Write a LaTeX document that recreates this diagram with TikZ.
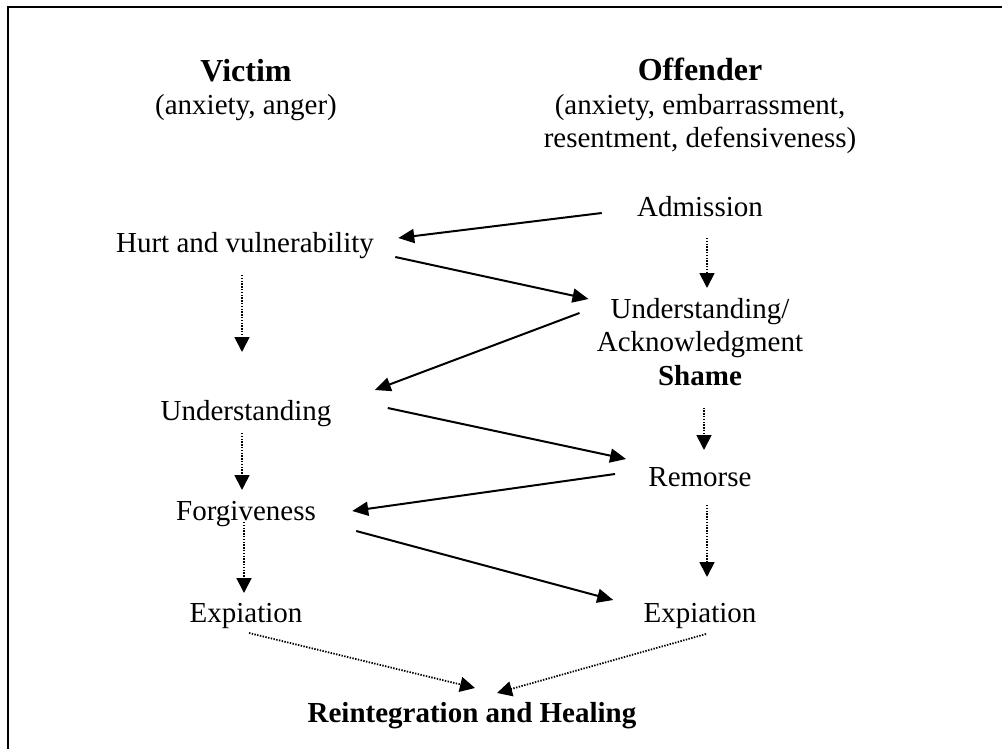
\documentclass[tikz,border=0pt]{standalone}
\usepackage{fontspec}
\setmainfont{Liberation Serif}
\usetikzlibrary{arrows.meta}
\newcommand{\headfont}{\fontsize{16}{18}\selectfont\bfseries}
\begin{document}
\begin{tikzpicture}[x=0.5pt,y=-0.5pt]
		\tikzstyle{every node}+=[inner sep=0pt, anchor=base, font=\fontsize{14.5}{16.75}\selectfont]
		\tikzstyle{arr}=[black, line width=1pt, -{Triangle[length=8pt,width=7pt]}]
		\tikzstyle{dotarr}=[black, line width=0.9pt, dash pattern=on 0.7pt off 0.7pt, -{Triangle[length=7.5pt,width=7.5pt]}]
		\useasboundingbox (0,0) rectangle (1002,749);
		\clip (0,0) rectangle (1002,749);
		% frame, cut off at the right and bottom
		\draw [black, line width=1pt] (8,7) rectangle (1030,780);
		% headers (base = last line)
		\node [align=center] (victim) at (246,115) {{\headfont Victim}\\(anxiety, anger)};
		\node [align=center] (offender) at (700,148) {{\headfont Offender}\\(anxiety, embarrassment,\\resentment, defensiveness)};
		% victim column
		\node (hurt) at (245,252) {Hurt and vulnerability};
		\node (underv) at (246,420) {Understanding};
		\node (forgive) at (246,520) {Forgiveness};
		\node (expv) at (246,622) {Expiation};
		% offender column
		\node (admission) at (700,217) {Admission};
		\node [align=center] (ack) at (700,385) {Understanding/\\Acknowledgment\\\textbf{Shame}};
		\node (remorse) at (700,486) {Remorse};
		\node (expo) at (700,622) {Expiation};
		\node (heal) at (472,722) {\textbf{Reintegration and Healing}};
		% zigzag
		\draw [arr] ([shift={(-35,-4)}]admission.base west) -- ([shift={(24,-14)}]hurt.base east);
		\draw [arr] ([shift={(21,5)}]hurt.base east) -- ([shift={(-8,-86)}]ack.base west);
		\draw [arr] ([shift={(-17,-72)}]ack.base west) -- ([shift={(43,-30)}]underv.base east);
		\draw [arr] ([shift={(56,-12)}]underv.base east) -- ([shift={(-22,-27)}]remorse.base west);
		\draw [arr] ([shift={(-33,-12)}]remorse.base west) -- ([shift={(36,-9)}]forgive.base east);
		\draw [arr] ([shift={(40,11)}]forgive.base east) -- ([shift={(-30,-22)}]expo.base west);
		% dotted steps
		\draw [dotarr] ([shift={(-3,23)}]hurt.base) -- ([shift={(-4,-68)}]underv.base);
		\draw [dotarr] ([shift={(-4,13)}]underv.base) -- ([shift={(-4,-30)}]forgive.base);
		\draw [dotarr] ([shift={(-2,2)}]forgive.base) -- ([shift={(-2,-29)}]expv.base);
		\draw [dotarr] ([shift={(7,21)}]admission.base) -- ([shift={(7,-97)}]ack.base);
		\draw [dotarr] ([shift={(4,22)}]ack.south) -- ([shift={(4,-36)}]remorse.base);
		\draw [dotarr] ([shift={(7,19)}]remorse.base) -- ([shift={(7,-45)}]expo.base);
		\draw [dotarr] ([shift={(3,11)}]expv.base) -- ([shift={(3,-34)}]heal.base);
		\draw [dotarr] ([shift={(6,12)}]expo.base) -- ([shift={(25,-29)}]heal.base);
	\end{tikzpicture}
\end{document}
